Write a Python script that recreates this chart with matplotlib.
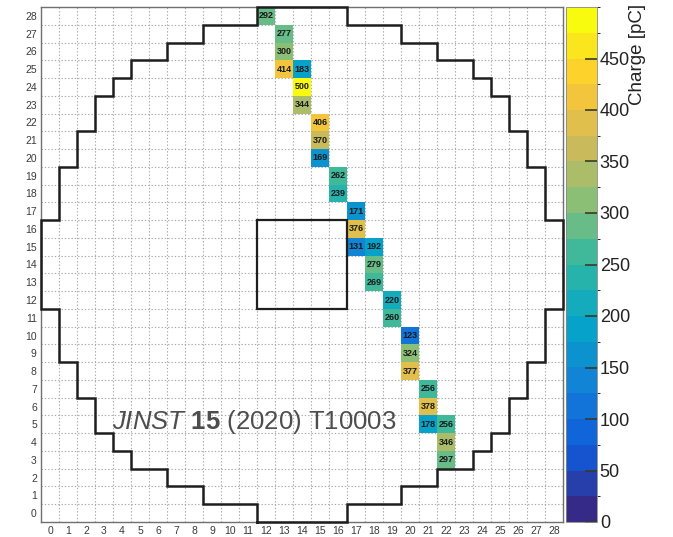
import numpy as np
import matplotlib
matplotlib.use("Agg")
import matplotlib.pyplot as plt
from matplotlib.colors import LinearSegmentedColormap, ListedColormap, BoundaryNorm
from matplotlib.patches import Rectangle

plt.rcParams['font.family'] = ['Liberation Sans', 'DejaVu Sans']
plt.rcParams['mathtext.fontset'] = 'custom'
plt.rcParams['mathtext.rm'] = 'Liberation Sans'
plt.rcParams['mathtext.it'] = 'Liberation Sans:italic'
plt.rcParams['mathtext.bf'] = 'Liberation Sans:bold'

# ---------------- data ----------------
n_cells = 29
hit_cols = [12, 13, 13, 13, 14, 14, 14, 15, 15, 15, 16, 16, 17, 17, 17,
            18, 18, 18, 19, 19, 20, 20, 20, 21, 21, 21, 22, 22, 22]
hit_rows = [28, 27, 26, 25, 25, 24, 23, 22, 21, 20, 19, 18, 17, 16, 15,
            15, 14, 13, 12, 11, 10, 9, 8, 7, 6, 5, 5, 4, 3]
charges = [292, 277, 300, 414, 183, 500, 344, 406, 370, 169, 262, 239, 171, 376, 131,
           192, 279, 269, 220, 260, 123, 324, 377, 256, 378, 178, 256, 346, 297]
# left boundary column of the active detector area for each row 0..28
row_left_edge = [12, 9, 7, 5, 4, 3, 3, 2, 2, 1, 1, 1, 0, 0, 0, 0, 0,
                 1, 1, 1, 2, 2, 3, 3, 4, 5, 7, 9, 12]
hole_cols = [12, 16]
hole_rows = [12, 16]
z_max = 500
z_step = 25
cbar_ticks = [0, 50, 100, 150, 200, 250, 300, 350, 400, 450]
tick_labels = [str(i) for i in range(n_cells)]

# ROOT kBird palette
stops = [0.0, 0.125, 0.25, 0.375, 0.5, 0.625, 0.75, 0.875, 1.0]
red = [0.2082, 0.0592, 0.0780, 0.0232, 0.1802, 0.5301, 0.8186, 0.9956, 0.9764]
green = [0.1664, 0.3599, 0.5041, 0.6419, 0.7178, 0.7492, 0.7328, 0.7862, 0.9832]
blue = [0.5293, 0.8684, 0.8385, 0.7914, 0.6425, 0.4662, 0.3499, 0.1968, 0.0539]
bird = LinearSegmentedColormap.from_list(
    'bird', [(s, (r, g, b)) for s, r, g, b in zip(stops, red, green, blue)])
levels = np.arange(0, z_max + z_step, z_step)
nb = len(levels) - 1
cmap = ListedColormap([bird(i / (nb - 1)) for i in range(nb)])
norm = BoundaryNorm(levels, cmap.N)

# ---------------- figure ----------------
W, H = 673, 537
fig = plt.figure(figsize=(W / 100, H / 100), dpi=100)
ax = fig.add_axes([41 / W, 1 - 522 / H, 522 / W, 515 / H])

Z = np.full((n_cells, n_cells), np.nan)
for c, r, q in zip(hit_cols, hit_rows, charges):
    Z[r, c] = min(q, z_max - 0.01)
edges = np.arange(n_cells + 1)
mesh = ax.pcolormesh(edges, edges, np.ma.masked_invalid(Z), cmap=cmap, norm=norm, zorder=1)

for c, r, q in zip(hit_cols, hit_rows, charges):
    ax.text(c + 0.5, r + 0.5, str(q), ha='center', va='center', fontsize=6.5,
            fontweight='bold', color='#1a1a1a', zorder=4)

# grid
for v in range(1, n_cells):
    ax.axvline(v, color='#a8a8a8', lw=0.8, ls=(0, (1.2, 1.8)), zorder=0.5)
    ax.axhline(v, color='#a8a8a8', lw=0.8, ls=(0, (1.2, 1.8)), zorder=0.5)

# detector outline
xs, ys = [], []
for r, L in enumerate(row_left_edge):
    xs += [L, L]
    ys += [r, r + 1]
for r in range(n_cells - 1, -1, -1):
    R = n_cells - row_left_edge[r]
    xs += [R, R]
    ys += [r + 1, r]
xs.append(xs[0]); ys.append(ys[0])
ax.plot(xs, ys, color='#1e1e1e', lw=1.8, zorder=3, clip_on=False, solid_joinstyle='miter')
ax.add_patch(Rectangle((hole_cols[0], hole_rows[0]), hole_cols[1] - hole_cols[0] + 1,
                       hole_rows[1] - hole_rows[0] + 1, fill=False,
                       ec='#1e1e1e', lw=1.6, zorder=3))

ax.set_xlim(0, n_cells)
ax.set_ylim(0, n_cells)
ax.set_xticks(np.arange(n_cells) + 0.5)
ax.set_xticklabels(tick_labels)
ax.set_yticks(np.arange(n_cells) + 0.5)
ax.set_yticklabels(tick_labels)
ax.tick_params(length=0, labelsize=7.5, labelcolor='#3a3a3a', pad=3)
for s in ax.spines.values():
    s.set_color('#707070')
    s.set_linewidth(1.0)

ax.text(0.136, 0.194, r'$\it{JINST}$ $\bf{15}$ (2020) T10003', transform=ax.transAxes,
        fontsize=18.5, color='#4d4d4d', ha='left', va='center', zorder=5)

# colorbar
cax = fig.add_axes([566 / W, 1 - 522 / H, 31 / W, 515 / H])
cb = fig.colorbar(mesh, cax=cax, ticks=cbar_ticks)
cb.outline.set_linewidth(0.6)
cb.outline.set_edgecolor('#888888')
cax.tick_params(direction='in', length=9, width=1.2, color='#3a3a2a', labelsize=13,
                pad=2, labelcolor='#222222')
fig.text(638 / W, 1 - 4 / H, 'Charge [pC]', rotation=90, ha='center', va='top',
         fontsize=13.5, color='#222222')

fig.savefig('out.png', dpi=100)
